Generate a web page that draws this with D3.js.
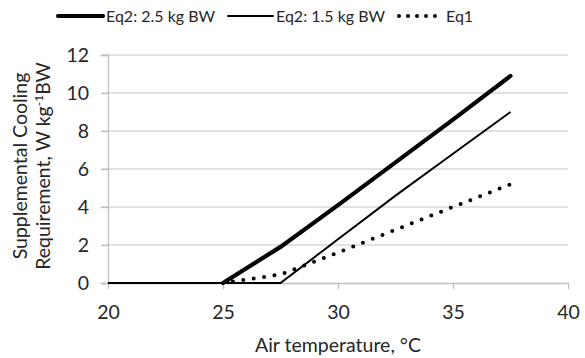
<!DOCTYPE html>
<html>
<head>
<meta charset="utf-8">
<script src="https://cdn.jsdelivr.net/npm/d3@7"></script>
<style>
  body { margin: 0; background: #fff; }
  text { font-family: Lato, "Open Sans", sans-serif; fill: #262626; }
</style>
</head>
<body>
<svg></svg>
<script>
const width = 585;
const height = 358;

// air temperature (°C) and cooling requirement (W/kg BW)
var temps = [20, 25, 27.5, 30, 32.5, 35, 37.5];
var eq2Heavy = [null, 0, 1.9, 4.1, 6.35, 8.6, 10.9];
var eq2Light = [0, 0, 0, 2.3, 4.6, 6.8, 9.0];
var eq1 = [null, 0, 0.45, 1.6, 2.8, 4.0, 5.2];
var xTicks = [20, 25, 30, 35, 40];
var yTicks = [0, 2, 4, 6, 8, 10, 12];
var seriesNames = ["Eq2: 2.5 kg BW", "Eq2: 1.5 kg BW", "Eq1"];

var svg = d3.select("svg")
    .attr("width", width)
    .attr("height", height);

var x = d3.scaleLinear().domain([20, 40]).range([108, 568]);
var y = d3.scaleLinear().domain([0, 12]).range([283, 55]);

// gridlines
svg.append("g")
  .selectAll("line")
  .data(yTicks.filter(d => d > 0))
  .enter().append("line")
    .attr("x1", x(20) - 7).attr("x2", x(40))
    .attr("y1", d => y(d)).attr("y2", d => y(d))
    .attr("stroke", "#d9d9d9").attr("stroke-width", 1.3);

// y axis
var yAxis = svg.append("g")
  .attr("transform", "translate(" + x(20) + ",0)")
  .call(d3.axisLeft(y).tickValues(yTicks).tickSize(7).tickPadding(12));
yAxis.select(".domain").attr("stroke", "#bfbfbf").attr("stroke-width", 1.3);
yAxis.selectAll(".tick line").attr("stroke", "#bfbfbf").attr("stroke-width", 1.3);
yAxis.selectAll("text").attr("font-size", 19.5).attr("fill", "#262626").style("font-family", "Lato");

// x axis
var xAxis = svg.append("g")
  .attr("transform", "translate(0," + y(0) + ")")
  .call(d3.axisBottom(x).tickValues(xTicks).tickSize(6).tickPadding(16));
xAxis.select(".domain").attr("stroke", "#bfbfbf").attr("stroke-width", 1.3).attr("d", "M" + (x(20) - 7) + ",0.5H" + x(40));
xAxis.selectAll(".tick line").attr("stroke", "#bfbfbf").attr("stroke-width", 1.3);
xAxis.selectAll("text").attr("font-size", 19.5).attr("fill", "#262626").style("font-family", "Lato");

// lines
var line = function(vals) {
  return d3.line()
    .defined((d, i) => vals[i] !== null)
    .x(d => x(d))
    .y((d, i) => y(vals[i]))(temps);
};

svg.append("path").attr("d", line(eq2Light))
  .attr("fill", "none").attr("stroke", "#000").attr("stroke-width", 2);
svg.append("path").attr("d", line(eq2Heavy))
  .attr("fill", "none").attr("stroke", "#000").attr("stroke-width", 4.2)
  .attr("stroke-linecap", "round");
svg.append("path").attr("d", line(eq1))
  .attr("fill", "none").attr("stroke", "#000").attr("stroke-width", 4)
  .attr("stroke-linecap", "round").attr("stroke-dasharray", "0,10.5")
  .attr("stroke-dashoffset", -10);

// axis titles
svg.append("text")
  .attr("x", x(30)).attr("y", 352)
  .attr("text-anchor", "middle").attr("font-size", 19.5)
  .text("Air temperature, °C");

var yt = svg.append("text")
  .attr("transform", "translate(27,166) rotate(-90)")
  .attr("text-anchor", "middle").attr("font-size", 19.5);
yt.append("tspan").attr("x", 0).attr("y", 0).text("Supplemental Cooling");
yt.append("tspan").attr("x", 0).attr("y", 23).text("Requirement, W kg");
yt.append("tspan").attr("dy", -7).attr("font-size", 12).text("-1");
yt.append("tspan").attr("dy", 7).text("BW");

// legend
var legend = [
  {x1: 58, x2: 103, w: 4.2, dash: null, tx: 106},
  {x1: 228, x2: 273, w: 2, dash: null, tx: 276},
  {x1: 399, x2: 438, w: 4, dash: "0,9", tx: 446}
];
legend.forEach(function(l, i) {
  var ln = svg.append("line")
    .attr("x1", l.x1).attr("x2", l.x2).attr("y1", 16).attr("y2", 16)
    .attr("stroke", "#000").attr("stroke-width", l.w)
    .attr("stroke-linecap", "round");
  if (l.dash) ln.attr("stroke-dasharray", l.dash);
  svg.append("text")
    .attr("x", l.tx).attr("y", 21.5)
    .attr("font-size", 16)
    .text(seriesNames[i]);
});
</script>
</body>
</html>
